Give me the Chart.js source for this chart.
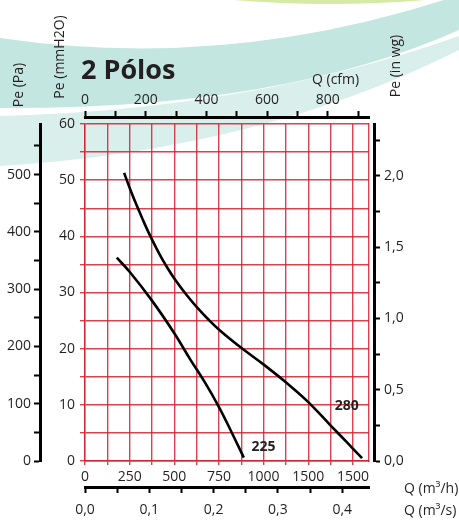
<!DOCTYPE html>
<html>
<head>
<meta charset="utf-8">
<script src="https://cdn.jsdelivr.net/npm/chart.js@4"></script>
<style>
  html, body { margin: 0; padding: 0; background: #fff; }
  .wrap { position: relative; width: 459px; height: 521px; }
</style>
</head>
<body>
<div class="wrap"><canvas id="fanChart"></canvas></div>
<script>
// dados das curvas (Q em m3/h, Pe em mmH2O)
const flow280 = [219, 260, 299, 337, 374, 411, 448, 504, 570, 626, 691, 757, 869, 999, 1121, 1243, 1373, 1467, 1551];
const pe280   = [51.3, 47.8, 44.8, 42.0, 39.5, 37.2, 35.1, 32.3, 29.5, 27.4, 25.2, 23.2, 20.3, 17.2, 14.1, 10.7, 6.4, 3.3, 0.5];
const flow225 = [178, 252, 374, 499, 589, 673, 750, 818, 889];
const pe225   = [36.2, 33.6, 28.6, 22.8, 18.1, 13.9, 9.6, 5.3, 0.6];

// etiquetas dos eixos
const qhLabels  = ['0', '250', '500', '750', '1000', '1500', '1500'];
const curveNames = ['280', '225'];

// limites dos eixos principais
const Q_MAX = 1590;
const P_MAX = 60;

const RED = 'rgba(214, 32, 52, 0.85)';
const INK = '#231f20';

Chart.defaults.font.family = "'Open Sans', 'Noto Sans', sans-serif";
Chart.defaults.font.size = 14;
Chart.defaults.color = INK;

function toPoints(xs, ys) {
    return xs.map((x, i) => ({ x: x, y: ys[i] }));
}
function comma(v) {
    return v.toFixed(1).replace('.', ',');
}
function fixWidth(w) {
    return function (scale) { scale.width = w; };
}
function fixHeight(h) {
    return function (scale) { scale.height = h; };
}

// fundo decorativo (faixas verdes)
const backdrop = {
    id: 'backdrop',
    beforeDraw(chart) {
        const c = chart.ctx;
        c.save();
        c.fillStyle = '#d6e9a6';
        c.beginPath();
        c.ellipse(330, -200, 492, 204, 0, 0, Math.PI * 2);
        c.fill();

        c.fillStyle = '#c4e6e0';
        c.beginPath();
        c.moveTo(0, 38);
        c.quadraticCurveTo(230, 72, 459, -5);
        c.lineTo(459, 30);
        c.quadraticCurveTo(280, 110, 0, 108);
        c.closePath();
        c.fill();

        c.fillStyle = '#d8efeb';
        c.beginPath();
        c.moveTo(0, 116);
        c.quadraticCurveTo(250, 110, 459, 36);
        c.lineTo(459, 50);
        c.quadraticCurveTo(260, 150, 0, 166);
        c.closePath();
        c.fill();
        c.restore();
    }
};

// textos fixos: titulo, unidades, nomes das curvas
const captions = {
    id: 'captions',
    afterDraw(chart) {
        const c = chart.ctx;
        const sx = chart.scales.x, sy = chart.scales.y;
        c.save();
        c.fillStyle = INK;
        c.textBaseline = 'middle';

        c.font = "bold 27px 'Open Sans', sans-serif";
        c.textAlign = 'left';
        c.fillText('2 Pólos', 81, 71);

        c.font = "14px 'Open Sans', sans-serif";
        c.fillText('Q (cfm)', 312, 80);
        c.fillText('Q (m³/h)', 404, 489);
        c.fillText('Q (m³/s)', 404, 511);

        const vertical = [['Pe (Pa)', 19, 85], ['Pe (mmH2O)', 60, 57], ['Pe (in wg)', 396, 66]];
        vertical.forEach(function (t) {
            c.save();
            c.translate(t[1], t[2]);
            c.rotate(-Math.PI / 2);
            c.textAlign = 'center';
            c.fillText(t[0], 0, 0);
            c.restore();
        });

        c.font = "bold 14px 'Open Sans', sans-serif";
        c.textAlign = 'center';
        c.fillText(curveNames[0], sx.getPixelForValue(1466), sy.getPixelForValue(9.8));
        c.fillText(curveNames[1], sx.getPixelForValue(1000), sy.getPixelForValue(2.5));
        c.restore();
    }
};

const blackAxis = {
    border: { display: true, color: '#000', width: 3 },
    grid: { drawOnChartArea: false, color: '#000', tickColor: '#000', tickWidth: 2, tickLength: 6 }
};

const spacer = {
    type: 'linear',
    ticks: { display: false },
    grid: { display: false },
    border: { display: false }
};

const ctx = document.getElementById('fanChart').getContext('2d');
const fanChart = new Chart(ctx, {
    type: 'line',
    data: {
        datasets: [{
            label: curveNames[0],
            data: toPoints(flow280, pe280),
            borderColor: '#000',
            borderWidth: 2.6,
            pointRadius: 0,
            tension: 0.4,
            fill: false
        }, {
            label: curveNames[1],
            data: toPoints(flow225, pe225),
            borderColor: '#000',
            borderWidth: 2.6,
            pointRadius: 0,
            tension: 0.4,
            fill: false
        }]
    },
    options: {
        responsive: true,
        maintainAspectRatio: false,
        animation: false,
        layout: { padding: { top: 87, left: 0, right: 45, bottom: 0 } },
        plugins: {
            legend: { display: false },
            tooltip: { enabled: false }
        },
        scales: {
            x: {
                type: 'linear',
                position: 'bottom',
                weight: 0,
                min: 0,
                max: Q_MAX,
                border: { display: true, color: RED, width: 1.4 },
                grid: { color: RED, lineWidth: 1.4, tickColor: RED, tickLength: 4 },
                ticks: {
                    stepSize: 125,
                    includeBounds: false,
                    maxRotation: 0,
                    autoSkip: false,
                    padding: 4,
                    callback: v => (v % 250 === 0 ? qhLabels[v / 250] : '')
                },
                afterFit: fixHeight(26)
            },
            m3s: {
                type: 'linear',
                position: 'bottom',
                weight: 1,
                min: 0,
                max: Q_MAX / 3600,
                border: blackAxis.border,
                grid: blackAxis.grid,
                ticks: {
                    stepSize: 0.05,
                    includeBounds: false,
                    maxRotation: 0,
                    autoSkip: false,
                    padding: 9,
                    callback: v => (Math.round(v * 100) % 10 === 0 ? comma(v) : '')
                },
                afterFit: fixHeight(34)
            },
            gapT: Object.assign({ position: 'top', weight: 0, afterFit: fixHeight(7) }, spacer),
            cfm: {
                type: 'linear',
                position: 'top',
                weight: 1,
                min: 0,
                max: Q_MAX / 1.69901,
                border: blackAxis.border,
                grid: blackAxis.grid,
                ticks: {
                    stepSize: 100,
                    includeBounds: false,
                    maxRotation: 0,
                    autoSkip: false,
                    padding: 3,
                    callback: v => (v % 200 === 0 ? String(v) : '')
                },
                afterFit: fixHeight(30)
            },
            y: {
                type: 'linear',
                position: 'left',
                weight: 0,
                min: 0,
                max: P_MAX,
                border: { display: true, color: RED, width: 1.4 },
                grid: { color: RED, lineWidth: 1.4, tickColor: RED, tickLength: 5 },
                ticks: {
                    stepSize: 5,
                    includeBounds: false,
                    autoSkip: false,
                    padding: 5,
                    callback: v => (v % 10 === 0 ? String(v) : '')
                },
                afterFit: fixWidth(45)
            },
            pa: {
                type: 'linear',
                position: 'left',
                weight: 1,
                min: 0,
                max: P_MAX * 9.80665,
                border: blackAxis.border,
                grid: blackAxis.grid,
                ticks: {
                    stepSize: 50,
                    includeBounds: false,
                    autoSkip: false,
                    padding: 3,
                    callback: v => (v % 100 === 0 ? String(v) : '')
                },
                afterFit: fixWidth(40)
            },
            gapR: Object.assign({}, spacer, {
                position: 'right',
                weight: 0,
                border: { display: true, color: RED, width: 1.4 },
                afterFit: fixWidth(5)
            }),
            inwg: {
                type: 'linear',
                position: 'right',
                weight: 1,
                min: 0,
                max: P_MAX / 25.4,
                border: blackAxis.border,
                grid: blackAxis.grid,
                ticks: {
                    stepSize: 0.25,
                    includeBounds: false,
                    autoSkip: false,
                    padding: 4,
                    callback: v => (Math.round(v * 100) % 50 === 0 ? comma(v) : '')
                },
                afterFit: fixWidth(40)
            }
        }
    },
    plugins: [backdrop, captions]
});
</script>
</body>
</html>
